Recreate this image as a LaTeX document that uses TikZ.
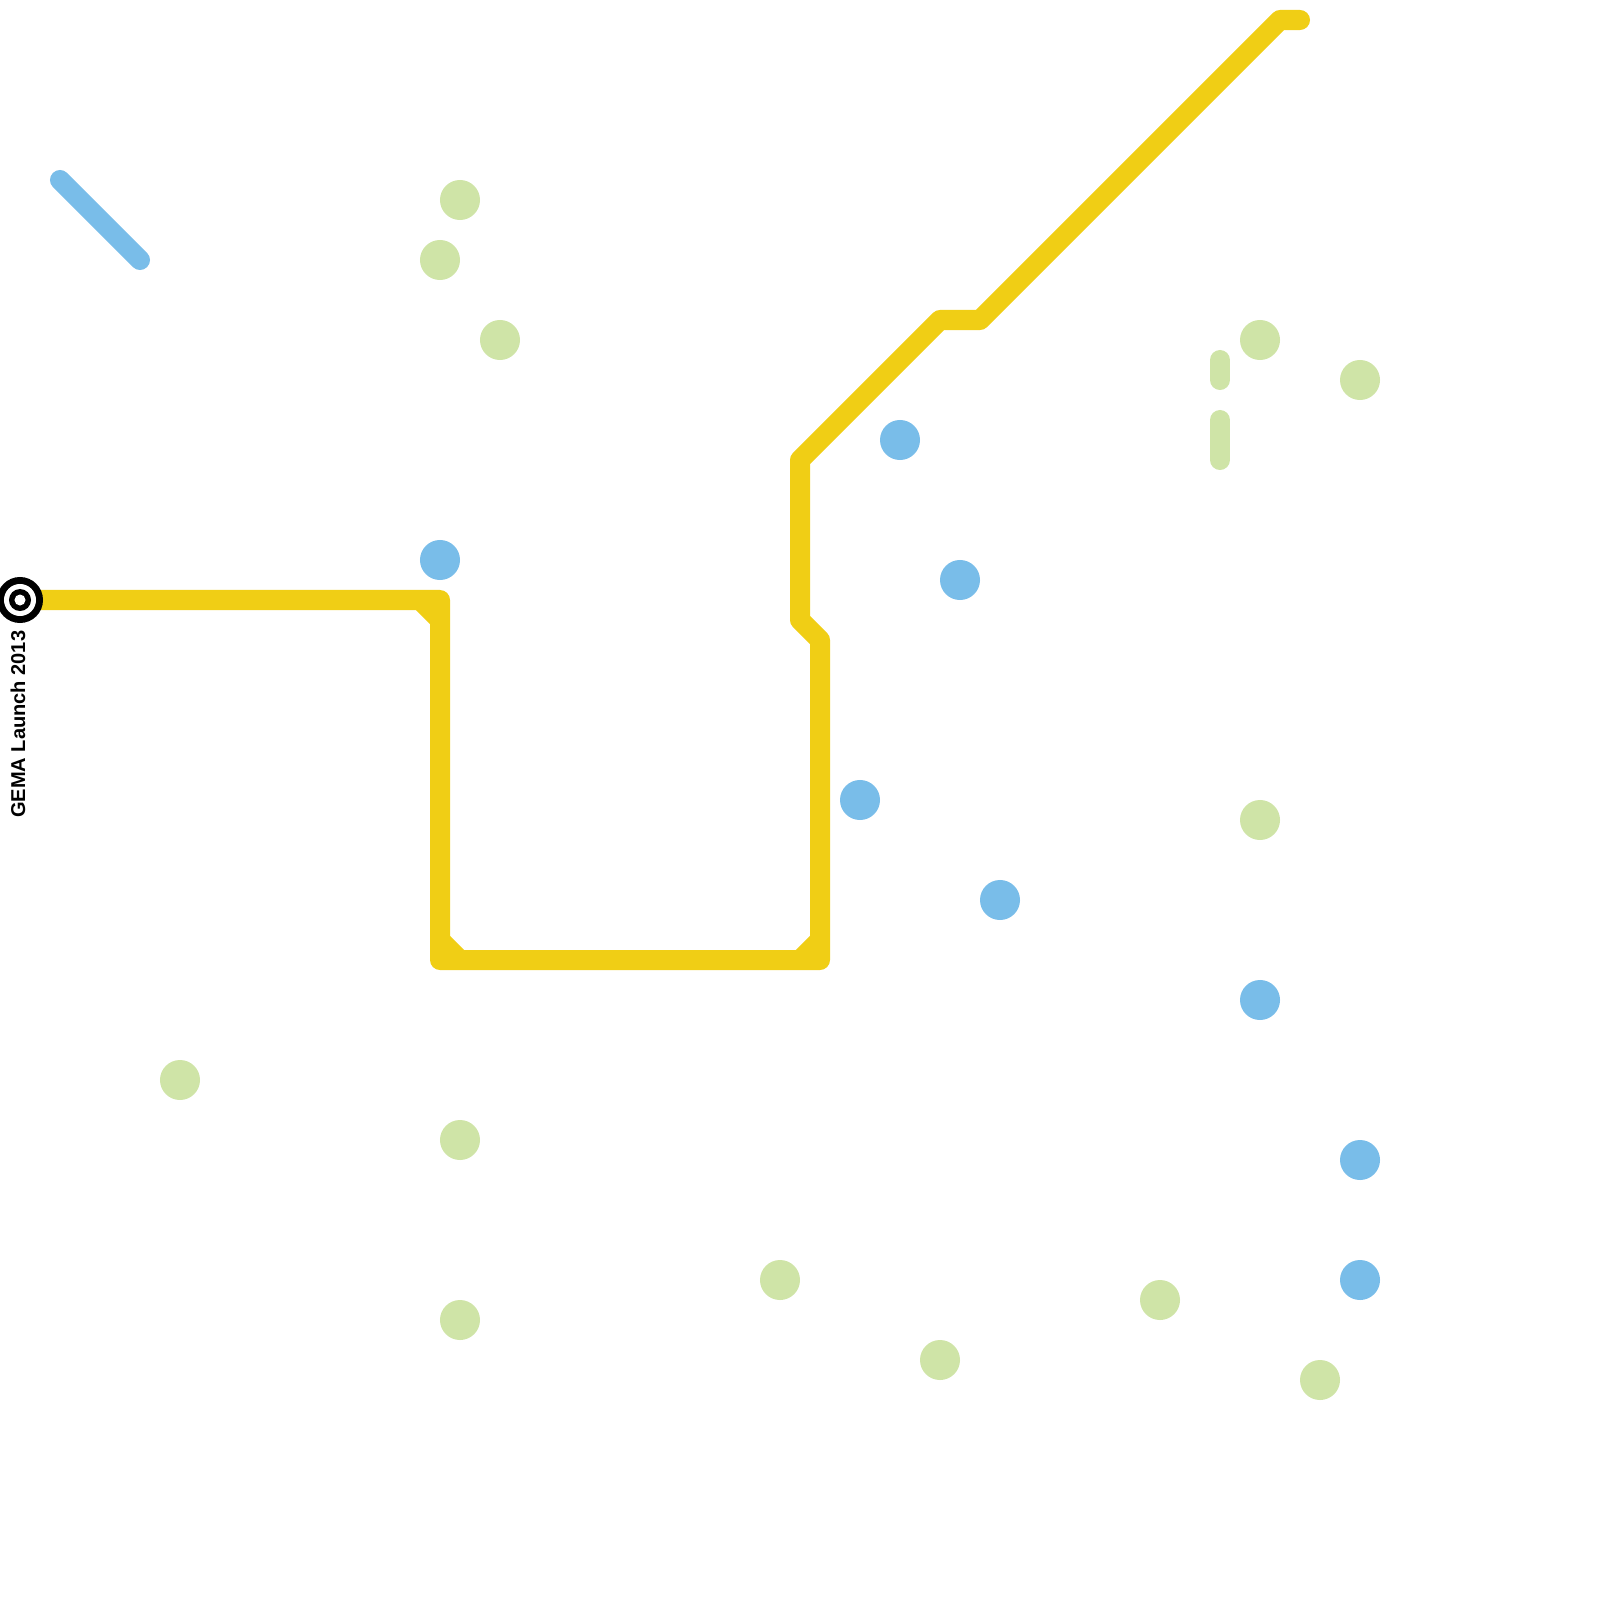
\documentclass[tikz,border=0pt]{standalone}
\usepackage{fontspec}
\setmainfont{Liberation Sans}
\usetikzlibrary{arrows.meta,positioning}
\definecolor{lineYellow}{HTML}{F0CE15}
\definecolor{lineBlue}{HTML}{79BDE9}
\definecolor{lineGreen}{HTML}{CFE4A7}
\tikzset{
  metro line/.style={line width=2mm, line cap=round, line join=round},
  yellow line/.style={metro line, draw=lineYellow},
  blue line/.style={metro line, draw=lineBlue},
  green line/.style={metro line, draw=lineGreen},
  blue stop/.style={circle, fill=lineBlue, minimum size=4mm, inner sep=0pt},
  green stop/.style={circle, fill=lineGreen, minimum size=4mm, inner sep=0pt},
  launch label/.style={font=\bfseries\fontsize{5.7pt}{7pt}\selectfont, text=black, rotate=90, anchor=base east, inner sep=0pt}
}
\begin{document}
\begin{tikzpicture}[x=0.01cm,y=-0.01cm]
  \useasboundingbox (0,0) rectangle (1600,1600);
  % yellow line
  \draw[yellow line] (20,600) -- (440,600) -- (440,960) -- (820,960) -- (820,640) -- (800,620) -- (800,460) -- (940,320) -- (980,320) -- (1280,20) -- (1300,20);
  \draw[yellow line,line cap=butt] (420,600) -- (440,620);
  \draw[yellow line,line cap=butt] (440,940) -- (460,960);
  \draw[yellow line,line cap=butt] (800,960) -- (820,940);
  % other lines
  \draw[blue line] (60,180) -- (140,260);
  \draw[green line] (1220,360) -- (1220,380);
  \draw[green line] (1220,420) -- (1220,460);
  % blue stops
  \node[blue stop] (b1) at (900,440) {};
  \node[blue stop] (b2) at (440,560) {};
  \node[blue stop] (b3) at (960,580) {};
  \node[blue stop] (b4) at (860,800) {};
  \node[blue stop] (b5) at (1000,900) {};
  \node[blue stop] (b6) at (1260,1000) {};
  \node[blue stop] (b7) at (1360,1160) {};
  \node[blue stop] (b8) at (1360,1280) {};
  % green stops
  \node[green stop] (g1) at (460,200) {};
  \node[green stop] (g2) at (440,260) {};
  \node[green stop] (g3) at (500,340) {};
  \node[green stop] (g4) at (1260,340) {};
  \node[green stop] (g5) at (1360,380) {};
  \node[green stop] (g6) at (1260,820) {};
  \node[green stop] (g7) at (180,1080) {};
  \node[green stop] (g8) at (460,1140) {};
  \node[green stop] (g9) at (460,1320) {};
  \node[green stop] (g10) at (780,1280) {};
  \node[green stop] (g11) at (940,1360) {};
  \node[green stop] (g12) at (1160,1300) {};
  \node[green stop] (g13) at (1320,1380) {};
  % terminus
  \node[circle, fill=black, minimum size=4.6mm, inner sep=0pt] (term) at (20,600) {};
  \node[circle, fill=white, minimum size=3.2mm, inner sep=0pt] (termwhite) at (term) {};
  \node[circle, fill=black, minimum size=2.2mm, inner sep=0pt] (termblack) at (term) {};
  \node[circle, fill=white, minimum size=1.1mm, inner sep=0pt] (termcore) at (term) {};
  \node[launch label] (launch) at (25,630) {GEMA Launch 2013};
\end{tikzpicture}
\end{document}
